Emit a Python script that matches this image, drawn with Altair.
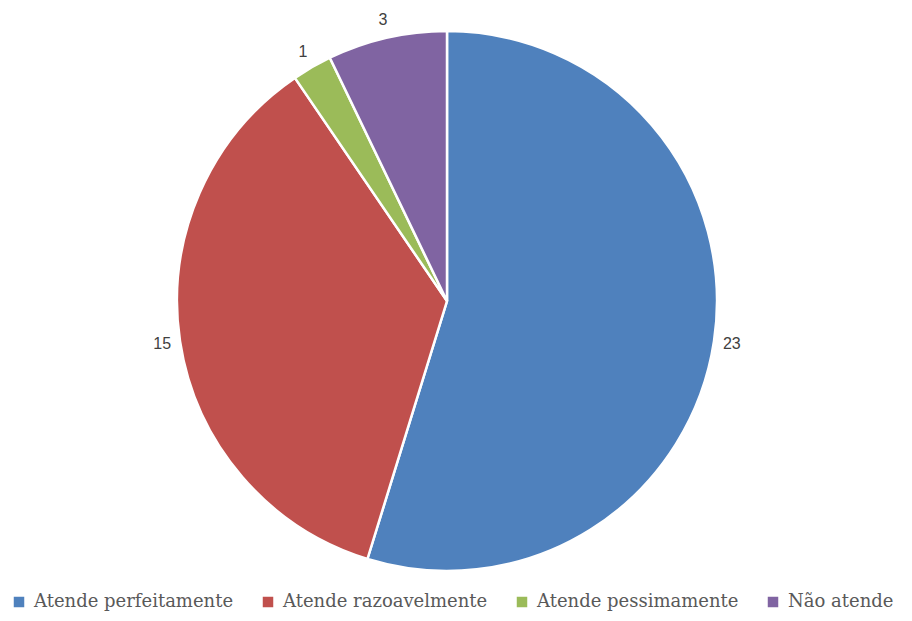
import altair as alt
import pandas as pd

categories = ["Atende perfeitamente", "Atende razoavelmente", "Atende pessimamente", "Não atende"]
values = [23, 15, 1, 3]
colors = ["#4F81BD", "#C0504D", "#9BBB59", "#8064A2"]

df = pd.DataFrame({"cat": categories, "val": values, "ord": list(range(len(values)))})

base = alt.Chart(df).encode(
    theta=alt.Theta("val:Q", stack=True),
    order=alt.Order("ord:Q"),
    x=alt.value(439),
    y=alt.value(293),
)

pie = base.mark_arc(outerRadius=270, stroke="white", strokeWidth=2.5).encode(
    color=alt.Color(
        "cat:N",
        scale=alt.Scale(domain=categories, range=colors),
        sort=categories,
        legend=alt.Legend(
            title=None,
            orient="none",
            legendX=2,
            legendY=585,
            direction="horizontal",
            symbolType="square",
            symbolSize=110,
            symbolStrokeWidth=0,
            labelFont="DejaVu Serif",
            labelFontSize=18,
            labelColor="#595959",
            labelLimit=0,
            columnPadding=25,
            symbolOffset=0,
            labelOffset=6,
        ),
    )
)

labels = base.mark_text(radius=288, font="Liberation Sans", fontSize=16, color="#404040").encode(
    text="val:Q"
)

chart = (
    alt.layer(pie, labels)
    .properties(width=896, height=605, padding=0, autosize=alt.AutoSizeParams(type="none"))
    .configure_view(stroke=None)
)

chart.save("out.html", embed_options={"renderer": "svg", "actions": False})
